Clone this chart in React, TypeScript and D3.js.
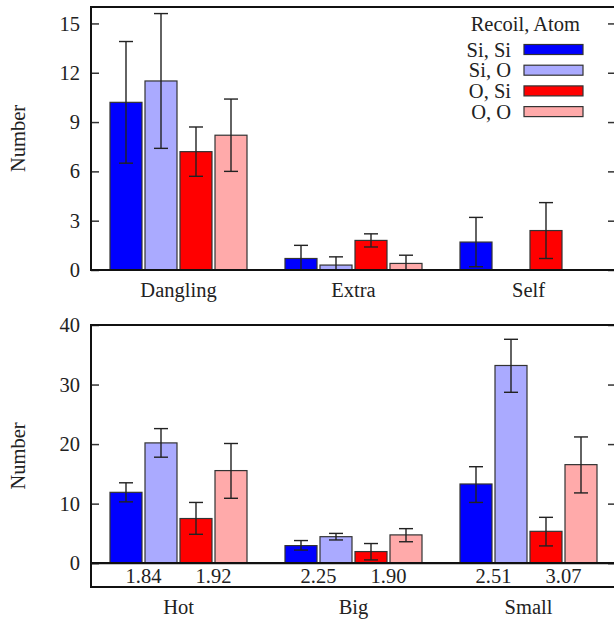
import React, { useEffect, useRef } from 'react';
import * as d3 from 'd3';

// series (recoil, atom) and their fills
const seriesNames = ['Si, Si', 'Si, O', 'O, Si', 'O, O'];
const seriesColors = ['#0000ff', '#aaaaff', '#ff0000', '#ffaaaa'];

// upper panel
const topCategories = ['Dangling', 'Extra', 'Self'];
const topValues = [[10.2, 0.7, 1.7], [11.5, 0.3, 0], [7.2, 1.8, 2.4], [8.2, 0.4, 0]];
const topLow = [[6.5, -0.1, 0.2], [7.4, -0.2, null], [5.7, 1.4, 0.7], [6.0, -0.1, null]];
const topHigh = [[13.9, 1.5, 3.2], [15.6, 0.8, null], [8.7, 2.2, 4.1], [10.4, 0.9, null]];
const topTicks = [0, 3, 6, 9, 12, 15];

// lower panel
const bottomCategories = ['Hot', 'Big', 'Small'];
const bottomValues = [[11.9, 2.95, 13.3], [20.2, 4.45, 33.2], [7.5, 1.95, 5.35], [15.55, 4.75, 16.55]];
const bottomLow = [[10.3, 2.2, 10.2], [17.8, 3.9, 28.7], [4.85, 0.55, 2.9], [10.9, 3.6, 11.8]];
const bottomHigh = [[13.5, 3.8, 16.2], [22.6, 5.0, 37.6], [10.2, 3.3, 7.7], [20.1, 5.8, 21.2]];
const bottomTicks = [0, 10, 20, 30, 40];
const ratioLabels = [['1.84', '1.92'], ['2.25', '1.90'], ['2.51', '3.07']];

const _width = 614, _height = 621;
const _left = 91, _right = 616;
const FONT = "'Liberation Serif', 'Times New Roman', Tinos, 'DejaVu Serif', serif";
const FS = '20.5px';
const INK = '#222';

type Panel = {
  categories: string[];
  values: number[][];
  low: (number | null)[][];
  high: (number | null)[][];
  domain: [number, number];
  ticks: number[];
  top: number;
  bottom: number;
  ratios?: string[][];
};

const drawPanel = (svg: d3.Selection<SVGSVGElement, unknown, null, undefined>, p: Panel) => {
  const x = d3.scaleBand().domain(p.categories).range([_left, _right]);
  const sub = d3.scaleBand().domain(seriesNames).range([19, 156]).paddingInner(3 / 35);
  const y = d3.scaleLinear().domain(p.domain).range([p.bottom, p.top]);
  const bw = sub.bandwidth();
  const g = svg.append('g');

  // bars
  seriesNames.forEach((name, i) => {
    p.categories.forEach((cat, j) => {
      const v = p.values[i][j];
      const x0 = x(cat)! + sub(name)!;
      g.append('rect')
        .attr('x', x0)
        .attr('y', y(Math.max(v, 0)))
        .attr('width', bw)
        .attr('height', Math.abs(y(0) - y(v)))
        .attr('fill', seriesColors[i])
        .attr('stroke', '#333')
        .attr('stroke-width', 1.2);

      const lo = p.low[i][j], hi = p.high[i][j];
      if (lo === null || hi === null) return;
      const cx = x0 + bw / 2;
      const loC = Math.max(lo, p.domain[0]);
      g.append('line').attr('x1', cx).attr('x2', cx).attr('y1', y(loC)).attr('y2', y(hi))
        .attr('stroke', INK).attr('stroke-width', 1.4);
      g.append('line').attr('x1', cx - 7).attr('x2', cx + 7).attr('y1', y(hi)).attr('y2', y(hi))
        .attr('stroke', INK).attr('stroke-width', 1.4);
      if (lo >= p.domain[0]) {
        g.append('line').attr('x1', cx - 7).attr('x2', cx + 7).attr('y1', y(lo)).attr('y2', y(lo))
          .attr('stroke', INK).attr('stroke-width', 1.4);
      }
    });
  });

  // axes, ticks inward on both sides
  const leftAxis = svg.append('g').attr('transform', `translate(${_left},0)`)
    .call(d3.axisLeft(y).tickValues(p.ticks).tickSize(-8).tickPadding(11).tickFormat(d3.format('d')));
  leftAxis.attr('font-family', null).attr('font-size', null);
  leftAxis.select('.domain').remove();
  leftAxis.selectAll('line').attr('stroke', '#333').attr('stroke-width', 1.5);
  leftAxis.selectAll('text').style('font-family', FONT).style('font-size', FS).attr('fill', INK);

  const rightAxis = svg.append('g').attr('transform', `translate(${_right},0)`)
    .call(d3.axisRight(y).tickValues(p.ticks).tickSize(-8).tickFormat(() => ''));
  rightAxis.select('.domain').remove();
  rightAxis.selectAll('line').attr('stroke', '#333').attr('stroke-width', 1.5);

  // frame
  svg.append('rect')
    .attr('x', _left).attr('y', p.top)
    .attr('width', _right - _left).attr('height', p.bottom - p.top)
    .attr('fill', 'none').attr('stroke', '#111').attr('stroke-width', 2);

  if (p.domain[0] < 0) {
    svg.append('line').attr('x1', _left).attr('x2', _right).attr('y1', y(0)).attr('y2', y(0))
      .attr('stroke', '#111').attr('stroke-width', 2.2);
  }

  // category labels
  svg.selectAll(null).data(p.categories).enter().append('text')
    .attr('x', d => x(d)! + x.bandwidth() / 2)
    .attr('y', p.bottom + 27)
    .attr('text-anchor', 'middle')
    .style('font-family', FONT).style('font-size', FS).attr('fill', INK)
    .text(d => d);

  // pair ratio labels under the zero line
  if (p.ratios) {
    p.categories.forEach((cat, j) => {
      [0, 1].forEach(k => {
        const a = sub(seriesNames[2 * k])!, b = sub(seriesNames[2 * k + 1])!;
        svg.append('text')
          .attr('x', x(cat)! + (a + b + bw) / 2)
          .attr('y', y(p.domain[0]) - 4)
          .attr('text-anchor', 'middle')
          .style('font-family', FONT).style('font-size', FS).attr('fill', INK)
          .text(p.ratios![j][k]);
      });
    });
  }

  // y title
  svg.append('text')
    .attr('transform', `translate(25,${(p.top + p.bottom) / 2}) rotate(-90)`)
    .attr('text-anchor', 'middle')
    .style('font-family', FONT).style('font-size', FS).attr('fill', INK)
    .text('Number');
};

const App = () => {
  const ref = useRef<SVGSVGElement>(null);

  useEffect(() => {
    const svg = d3.select(ref.current!);
    svg.selectAll('*').remove();

    drawPanel(svg, {
      categories: topCategories, values: topValues, low: topLow, high: topHigh,
      domain: [0, 16], ticks: topTicks, top: 7, bottom: 270,
    });
    drawPanel(svg, {
      categories: bottomCategories, values: bottomValues, low: bottomLow, high: bottomHigh,
      domain: [-4, 40], ticks: bottomTicks, top: 325, bottom: 587, ratios: ratioLabels,
    });

    // legend
    const legend = svg.append('g');
    legend.append('text')
      .attr('x', 580).attr('y', 31)
      .attr('text-anchor', 'end')
      .style('font-family', FONT).style('font-size', FS).attr('fill', INK)
      .text('Recoil, Atom');
    seriesNames.forEach((name, i) => {
      const cy = 49.5 + i * 20.7;
      legend.append('text')
        .attr('x', 511).attr('y', cy + 7)
        .attr('text-anchor', 'end')
        .style('font-family', FONT).style('font-size', FS).attr('fill', INK)
        .text(name);
      legend.append('rect')
        .attr('x', 524).attr('y', cy - 5).attr('width', 59).attr('height', 10)
        .attr('fill', seriesColors[i]).attr('stroke', '#333').attr('stroke-width', 1.2);
    });

    return () => { svg.selectAll('*').remove(); };
  }, []);

  return (
    <svg ref={ref} width={_width} height={_height}
      style={{ position: 'absolute', left: 0, top: 0, background: '#fff' }} />
  );
};

export default App;
